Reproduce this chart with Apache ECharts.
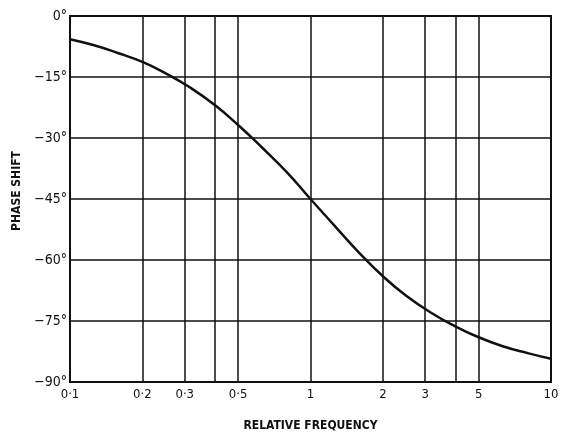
<!DOCTYPE html>
<html>
<head>
<meta charset="utf-8">
<script src="https://cdn.jsdelivr.net/npm/echarts@6/dist/echarts.min.js"></script>
<style>
  html, body { margin: 0; padding: 0; background: #fff; }
  #chart { width: 566px; height: 437px; }
</style>
</head>
<body>
<div id="chart"></div>
<script>
// Phase response of a first-order network against relative frequency
const frequency = [0.1, 0.126, 0.158, 0.2, 0.25, 0.316, 0.4, 0.5, 0.63, 0.8, 1, 1.26, 1.58, 2, 2.5, 3.16, 4, 5, 6.3, 8, 10];
const phaseShift = [-5.7, -7.2, -9.1, -11.3, -14.1, -17.6, -21.9, -26.8, -32.4, -38.5, -45, -51.6, -58.0, -64.0, -68.8, -72.9, -76.3, -79.0, -81.2, -82.9, -84.3];

// Vertical rulings on the log scale and the labels printed beneath them
const xRulings = [0.1, 0.2, 0.3, 0.4, 0.5, 1, 2, 3, 4, 5, 10];
const xRulingLabels = ['0·1', '0·2', '0·3', '', '0·5', '1', '2', '3', '', '5', '10'];

const FONT = '"DejaVu Sans Condensed", "DejaVu Sans", sans-serif';
const INK = '#111';

const rulingLines = xRulings.map((v, i) => [
  { coord: [v, -90], label: { formatter: xRulingLabels[i] } },
  { coord: [v, 0] }
]);

const chart = echarts.init(document.getElementById('chart'), null, { renderer: 'canvas' });
chart.setOption({
  animation: false,
  backgroundColor: '#fff',
  grid: {
    left: 70, right: 15, top: 16, bottom: 54,
    show: true, borderColor: INK, borderWidth: 2
  },
  xAxis: {
    type: 'log',
    logBase: 10,
    min: 0.1,
    max: 10,
    name: 'RELATIVE FREQUENCY',
    nameLocation: 'middle',
    nameGap: 38,
    nameTextStyle: { fontFamily: FONT, fontSize: 12, fontWeight: 'bold', color: INK },
    axisLine: { show: true, lineStyle: { color: INK, width: 2 } },
    axisTick: { show: false },
    axisLabel: { show: false },
    splitLine: { show: false }
  },
  yAxis: {
    type: 'value',
    min: -90,
    max: 0,
    interval: 15,
    name: 'PHASE SHIFT',
    nameLocation: 'middle',
    nameRotate: 90,
    nameGap: 46,
    nameTextStyle: { fontFamily: FONT, fontSize: 12, fontWeight: 'bold', color: INK, padding: [0, 0, 0, 16] },
    axisLine: { show: true, lineStyle: { color: INK, width: 2 } },
    axisTick: { show: false },
    axisLabel: {
      margin: 3,
      fontFamily: FONT,
      fontSize: 14,
      color: INK,
      formatter: v => (v === 0 ? '0°' : '−' + Math.abs(v) + '°')
    },
    splitLine: { show: true, lineStyle: { color: INK, width: 1.5 } }
  },
  series: [{
    type: 'line',
    data: frequency.map((f, i) => [f, phaseShift[i]]),
    smooth: true,
    showSymbol: false,
    lineStyle: { color: INK, width: 2.5 },
    markLine: {
      silent: true,
      symbol: ['none', 'none'],
      lineStyle: { color: INK, width: 1.5, type: 'solid' },
      label: {
        show: true,
        position: 'start',
        distance: 6,
        fontFamily: FONT,
        fontSize: 13,
        color: INK
      },
      emphasis: { disabled: true },
      data: rulingLines
    },
    z: 3
  }]
});
</script>
</body>
</html>
